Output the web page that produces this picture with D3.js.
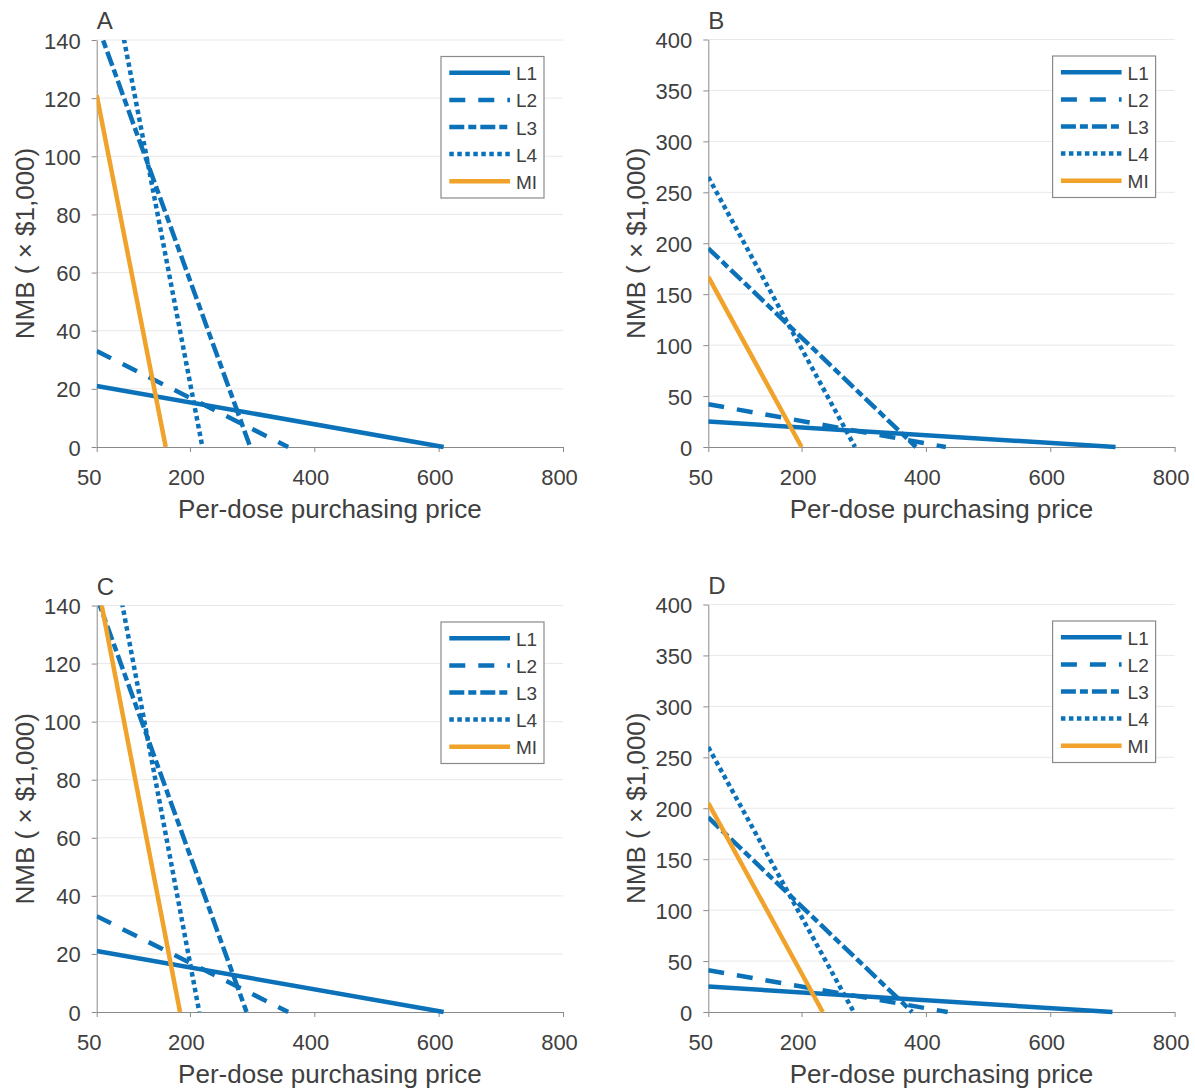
<!DOCTYPE html>
<html>
<head>
<meta charset="utf-8">
<script src="https://cdn.jsdelivr.net/npm/d3@7"></script>
<style>
  html, body { margin: 0; padding: 0; background: #ffffff; }
  svg { display: block; }
  text { font-family: "Liberation Sans", Arial, Helvetica, sans-serif; fill: #404040; }
</style>
</head>
<body>
<svg id="chart" width="1195" height="1088"></svg>
<script>
// ---- Data ----
const panelLabels = ["A", "B", "C", "D"];
const seriesNames = ["L1", "L2", "L3", "L4", "MI"];
const xTicks = [50, 200, 400, 600, 800];
const yTicksSmall = [0, 20, 40, 60, 80, 100, 120, 140];
const yTicksLarge = [0, 50, 100, 150, 200, 250, 300, 350, 400];
const startPrice = 50;
// NMB (x $1,000) at a per-dose price of 50, one value per series (L1..L4, MI)
const nmbStartA = [21, 33, 146, 189, 121];
const nmbStartB = [25, 42, 195, 265, 167];
const nmbStartC = [21, 33, 143, 187, 149];
const nmbStartD = [25, 41, 191, 260, 205];
// per-dose price at which NMB reaches 0, one value per series (L1..L4, MI)
const breakEvenA = [608, 358, 297, 220, 161];
const breakEvenB = [705, 432, 384, 286, 200];
const breakEvenC = [608, 358, 291, 215, 184];
const breakEvenD = [700, 435, 378, 284, 234];

// ---- Styles ----
const BLUE = "#0b72b9";
const ORANGE = "#f0a22a";
const seriesStyle = [
  { color: BLUE, dash: null },
  { color: BLUE, dash: "16,13" },
  { color: BLUE, dash: "15,4,8,4" },
  { color: BLUE, dash: "4.5,3.5" },
  { color: ORANGE, dash: null }
];

const panels = [
  { label: panelLabels[0], start: nmbStartA, end: breakEvenA, yTicks: yTicksSmall, left: 96.7, top: 40, bottom: 447 },
  { label: panelLabels[1], start: nmbStartB, end: breakEvenB, yTicks: yTicksLarge, left: 708.3, top: 39.5, bottom: 447 },
  { label: panelLabels[2], start: nmbStartC, end: breakEvenC, yTicks: yTicksSmall, left: 96.7, top: 605.5, bottom: 1012 },
  { label: panelLabels[3], start: nmbStartD, end: breakEvenD, yTicks: yTicksLarge, left: 708.3, top: 604.5, bottom: 1012 }
];
const plotWidth = 466.3;

const svg = d3.select("#chart");

panels.forEach((p, pi) => {
  const yMax = p.yTicks[p.yTicks.length - 1];
  const x = d3.scaleLinear().domain([xTicks[0], xTicks[xTicks.length - 1]]).range([p.left, p.left + plotWidth]);
  const y = d3.scaleLinear().domain([0, yMax]).range([p.bottom, p.top]);
  const g = svg.append("g");

  // gridlines
  g.append("g").selectAll("line").data(p.yTicks.filter(d => d > 0)).join("line")
    .attr("x1", p.left).attr("x2", p.left + plotWidth)
    .attr("y1", d => y(d)).attr("y2", d => y(d))
    .attr("stroke", "#e8e8e8").attr("stroke-width", 1);

  // y axis
  const yAxis = g.append("g").attr("transform", `translate(${p.left},0)`)
    .call(d3.axisLeft(y).tickValues(p.yTicks).tickSize(5).tickSizeOuter(0).tickFormat(d3.format("d")));
  yAxis.select(".domain").attr("stroke", "#8a8a8a");
  yAxis.selectAll(".tick line").attr("stroke", "#8a8a8a");
  yAxis.selectAll(".tick text").attr("x", -16).attr("dy", null).attr("y", 8)
    .style("font-size", "22px").attr("fill", "#404040")
    .style("font-family", "'Liberation Sans', Arial, Helvetica, sans-serif");

  // x axis
  const xAxis = g.append("g").attr("transform", `translate(0,${p.bottom})`)
    .call(d3.axisBottom(x).tickValues(xTicks).tickSize(5).tickSizeOuter(0).tickFormat(d3.format("d")));
  xAxis.select(".domain").attr("stroke", "#8a8a8a");
  xAxis.selectAll(".tick line").attr("stroke", "#8a8a8a");
  xAxis.selectAll(".tick text").attr("y", 38).attr("dy", null)
    .attr("x", (d, i) => i === 0 ? -8 : -4)
    .style("font-size", "22px").attr("fill", "#404040")
    .style("font-family", "'Liberation Sans', Arial, Helvetica, sans-serif");

  // clip
  const clipId = "clip" + pi;
  svg.append("clipPath").attr("id", clipId).append("rect")
    .attr("x", p.left).attr("y", p.top)
    .attr("width", plotWidth).attr("height", p.bottom - p.top + 6);

  // series lines
  const line = d3.line().x(d => x(d[0])).y(d => y(d[1]));
  const seriesData = seriesNames.map((name, i) => ({
    name, style: seriesStyle[i],
    pts: [[startPrice, p.start[i]], [p.end[i], 0]]
  }));
  g.append("g").attr("clip-path", `url(#${clipId})`)
    .selectAll("path").data(seriesData).join("path")
    .attr("d", d => line(d.pts))
    .attr("fill", "none")
    .attr("stroke", d => d.style.color)
    .attr("stroke-width", 4.5)
    .attr("stroke-linecap", "butt")
    .attr("stroke-dasharray", d => d.style.dash);

  // panel label
  g.append("text").attr("x", p.left).attr("y", p.top - 11)
    .style("font-size", "24px").text(p.label);

  // axis titles
  g.append("text")
    .attr("x", p.left + plotWidth / 2).attr("y", p.bottom + 71)
    .attr("text-anchor", "middle").style("font-size", "26px")
    .text("Per-dose purchasing price");
  g.append("text")
    .attr("transform", `translate(${p.left - 63},${(p.top + p.bottom) / 2}) rotate(-90)`)
    .attr("text-anchor", "middle").style("font-size", "26px")
    .text("NMB ( \u00d7 $1,000)");

  // legend
  const lgW = 103, lgH = 141.5;
  const lgX = p.left + plotWidth - 19 - lgW, lgY = p.top + 16.5;
  const lg = g.append("g").attr("transform", `translate(${lgX},${lgY})`);
  lg.append("rect").attr("width", lgW).attr("height", lgH)
    .attr("fill", "#ffffff").attr("stroke", "#8a8a8a").attr("stroke-width", 1.2);
  const items = lg.selectAll("g.item").data(seriesData).join("g")
    .attr("transform", (d, i) => `translate(0,${16.3 + i * 27.1})`);
  items.append("line").attr("x1", 8.3).attr("x2", 69).attr("y1", 0).attr("y2", 0)
    .attr("stroke", d => d.style.color).attr("stroke-width", 4.5)
    .attr("stroke-dasharray", d => d.style.dash);
  items.append("text").attr("x", 75).attr("y", 7.5)
    .style("font-size", "19px").text(d => d.name);
});
</script>
</body>
</html>
